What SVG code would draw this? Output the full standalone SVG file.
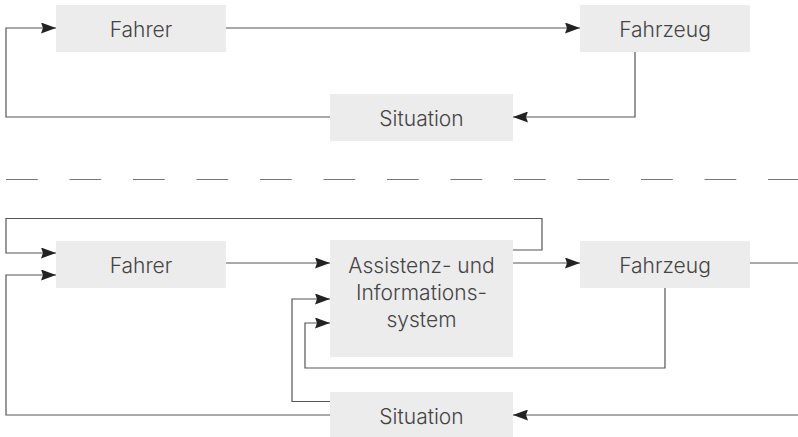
<svg xmlns="http://www.w3.org/2000/svg" width="798" height="437" viewBox="0 0 798 437">
<defs>
<style>
.box{fill:#ececec}
.lbl{font-family:Inter,"DejaVu Sans",sans-serif;font-weight:300;font-size:21px;fill:#444;text-anchor:middle}
.ln{fill:none;stroke:#555;stroke-width:1.2}
.dash{fill:none;stroke:#777;stroke-width:1.2;stroke-dasharray:31.75 31.75}
</style>
<marker id="ah" viewBox="0 0 15 11" refX="15" refY="5.5" markerWidth="15" markerHeight="11" markerUnits="userSpaceOnUse" orient="auto">
<path d="M0,0 L15,5.5 L0,11 L2,5.5 z" fill="#222"/>
</marker>
</defs>
<rect width="798" height="437" fill="#fff"/>
<g id="connectors">
<path class="ln" d="M226,28 H580" marker-end="url(#ah)"/>
<path class="ln" d="M330,117 H6 V28 H56" marker-end="url(#ah)"/>
<path class="ln" d="M635,52 V117 H513" marker-end="url(#ah)"/>
<path class="dash" d="M6,179.5 H798"/>
<path class="ln" d="M513,250 H542 V218.5 H6 V253 H56" marker-end="url(#ah)"/>
<path class="ln" d="M330,415 H6 V275 H56" marker-end="url(#ah)"/>
<path class="ln" d="M226,263 H330" marker-end="url(#ah)"/>
<path class="ln" d="M513,263 H580" marker-end="url(#ah)"/>
<path class="ln" d="M330,401.5 H292 V299 H330" marker-end="url(#ah)"/>
<path class="ln" d="M665,288 V368 H305 V323 H330" marker-end="url(#ah)"/>
<path class="ln" d="M750,263 H798"/>
<path class="ln" d="M798,415 H513" marker-end="url(#ah)"/>
</g>
<g id="fahrer1"><rect class="box" x="56" y="5" width="170" height="47"/><text class="lbl" x="141" y="36.5">Fahrer</text></g>
<g id="fahrzeug1"><rect class="box" x="580" y="5" width="170" height="47"/><text class="lbl" x="665" y="36.5">Fahrzeug</text></g>
<g id="situation1"><rect class="box" x="330" y="94" width="183" height="47"/><text class="lbl" x="421.5" y="125.5">Situation</text></g>
<g id="fahrer2"><rect class="box" x="56" y="241" width="170" height="47"/><text class="lbl" x="141" y="272.5">Fahrer</text></g>
<g id="assistenz"><rect class="box" x="330" y="240" width="183" height="117"/><text class="lbl" x="421.5" y="272.5">Assistenz- und</text><text class="lbl" x="421.5" y="299.5">Informations-</text><text class="lbl" x="421.5" y="326.5">system</text></g>
<g id="fahrzeug2"><rect class="box" x="580" y="241" width="170" height="47"/><text class="lbl" x="665" y="272.5">Fahrzeug</text></g>
<g id="situation2"><rect class="box" x="330" y="392" width="183" height="47"/><text class="lbl" x="421.5" y="424">Situation</text></g>
</svg>
